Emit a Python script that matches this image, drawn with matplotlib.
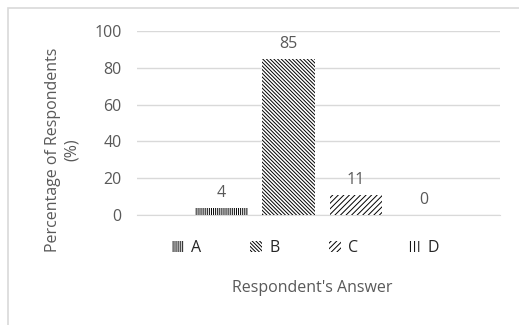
import matplotlib.pyplot as plt
from matplotlib.patches import Rectangle

plt.rcParams['font.family'] = ['Open Sans', 'DejaVu Sans']
plt.rcParams['hatch.linewidth'] = 0.7

answers = ['A', 'B', 'C', 'D']
percent = [4, 85, 11, 0]
hatches = ['||||||||', '\\\\\\\\\\\\\\\\\\', '//////', '||||']
yticks = [0, 20, 40, 60, 80, 100]

grey = '#595959'
fs = 11.5

fig = plt.figure(figsize=(5.19, 3.25), dpi=100)
ax = fig.add_axes([0.264, 0.338, 0.699, 0.567])

# outer chart border (left/top only visible)
fig.patches.append(Rectangle((8 / 519, -0.1), 1.2, 1 - 8 / 325 + 0.1,
                             transform=fig.transFigure, fill=False,
                             edgecolor='#d9d9d9', linewidth=1.2))

bars = []
for i, (name, val, h) in enumerate(zip(answers, percent, hatches)):
    b = ax.bar(i, val, width=0.78, color='white', edgecolor='black',
               hatch=h, linewidth=0, label=name, zorder=3)
    bars.append(b)
    ax.annotate(str(val), (i, val), xytext=(0, 5), textcoords='offset points',
                ha='center', va='bottom', fontsize=fs, color=grey)

ax.set_xlim(-1.25, 4.13)
ax.set_ylim(0, 100)
ax.set_yticks(yticks)
ax.set_xticks([])
ax.yaxis.grid(True, color='#d9d9d9', linewidth=1)
ax.set_axisbelow(True)
for s in ['top', 'right', 'left']:
    ax.spines[s].set_visible(False)
ax.spines['bottom'].set_color('#d9d9d9')
ax.tick_params(axis='y', length=0, labelsize=fs, labelcolor=grey, pad=11)

fig.text(0.12, 0.54, 'Percentage of Respondents\n(%)', rotation=90,
         ha='center', va='center', fontsize=fs, color=grey,
         multialignment='center', linespacing=1.25)
fig.text(0.602, 0.114, "Respondent's Answer", ha='center', va='center',
         fontsize=fs, color=grey)

fig.legend(handles=[b[0] for b in bars], labels=answers, ncol=4,
           loc='center', bbox_to_anchor=(0.588, 0.237), frameon=False,
           handlelength=0.75, handleheight=0.75, handletextpad=0.45,
           columnspacing=3.1, fontsize=fs, labelcolor='#262626')

fig.savefig('out.png', dpi=100)
